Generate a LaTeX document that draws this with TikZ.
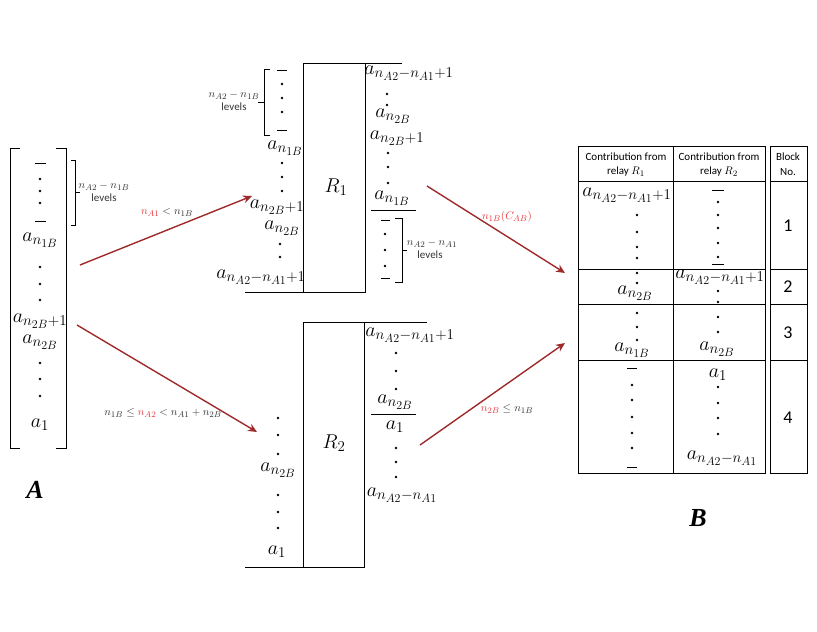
\RequirePackage{fix-cm}
\documentclass[tikz,border=0pt]{standalone}
\usepackage{fontspec}
\setmainfont{Carlito}
\newfontfamily\bigserif{Liberation Serif}
\usetikzlibrary{arrows.meta}
\DeclareMathSizes{20}{20}{15}{12}
\DeclareMathSizes{11}{11}{8.5}{7}
\definecolor{arr}{HTML}{9E2A2B}
\definecolor{lab}{HTML}{E8383D}
\newcommand\mydots[2]{\foreach \yy in {#2} {\fill (#1,\yy) circle[radius=1.3];}}
\newcommand\mydash[3]{\draw[thin] (#1,#3) -- (#2,#3);}
\begin{document}
\begin{tikzpicture}[x=1pt,y=-1pt,
  m/.style={font=\fontsize{20}{23}\selectfont, inner sep=0pt},
  sm/.style={font=\fontsize{11}{12}\selectfont, inner sep=0pt, text=black!80},
  num/.style={font=\fontsize{18}{20}\selectfont, inner sep=0pt},
  big/.style={font=\bigserif\bfseries\itshape\fontsize{26}{28}\selectfont, inner sep=0pt},
  ln/.style={line width=0.8pt},
  arrow/.style={draw=arr, line width=1.4pt, -{Stealth[length=9pt,width=8pt]}}]
\useasboundingbox (0,0) rectangle (817,632);

% ---------- Matrix A ----------
\draw[ln] (20,148) -- (10,148) -- (10,448) -- (20,448);
\draw[ln] (56,148) -- (66,148) -- (66,448) -- (56,448);
\mydash{35}{46}{163}
\mydots{40}{179,191,203}
\mydash{35}{46}{221}
\node[m] (Aa1B) at (40,240) {$a_{n_{1B}}$};
\mydots{40}{267,284,300}
\node[m] (Aa2Bp) at (40,321) {$a_{n_{2B}+1}$};
\node[m] (Aa2B) at (40,342) {$a_{n_{2B}}$};
\mydots{40}{363,379,396}
\node[m] (Aa1) at (40,425) {$a_1$};
\draw[ln] (71,160) -- (75,160) -- (75,225) -- (71,225);
\draw[ln] (75,192) -- (80,192);
\node[sm] (Al1) at (104,186) {$n_{A2}-n_{1B}$};
\node[sm] (Al2) at (104,198) {levels};
\node[big] (Alab) at (35,490) {A};

% ---------- arrows ----------
\coordinate (u1s) at (80,265);  \coordinate (u1e) at (252,196);
\coordinate (d1s) at (77,325);  \coordinate (d1e) at (257,432);
\coordinate (u2s) at (427,186); \coordinate (u2e) at (565,273);
\coordinate (d2s) at (420,445); \coordinate (d2e) at (565,343);
\draw[arrow] (u1s) -- (u1e);
\draw[arrow] (d1s) -- (d1e);
\draw[arrow] (u2s) -- (u2e);
\draw[arrow] (d2s) -- (d2e);
\node[sm] (lu1) at (167,213) {$\textcolor{lab}{n_{A1}} < n_{1B}$};
\node[sm] (ld1) at (163,413) {$n_{1B} \le \textcolor{lab}{n_{A2}} < n_{A1}+n_{2B}$};
\node[sm] (lu2) at (507,217) {$\textcolor{lab}{n_{1B}(C_{AB})}$};
\node[sm] (ld2) at (507,409) {$\textcolor{lab}{n_{2B}} \le n_{1B}$};

% ---------- Relay R1 ----------
\draw[ln] (303,63) rectangle (365,292);
\draw[ln] (365,63) -- (402,63);
\draw[ln] (245,292) -- (303,292);
\node[m] (R1) at (336,187) {$R_1$};
% left
\draw[ln] (270,69) -- (264,69) -- (264,135) -- (270,135);
\draw[ln] (264,102) -- (258,102);
\node[sm] (R1l1) at (234,95) {$n_{A2}-n_{1B}$};
\node[sm] (R1l2) at (234,107) {levels};
\mydash{277}{287}{70}
\mydots{282}{84,98,112}
\mydash{277}{287}{130}
\node[m] (R1a1B) at (285,148) {$a_{n_{1B}}$};
\mydots{282}{163,177,191}
\node[m] (R1a2Bp) at (277,207) {$a_{n_{2B}+1}$};
\node[m] (R1a2B) at (282,228) {$a_{n_{2B}}$};
\mydots{280}{244,257}
\node[m] (R1aA) at (261,277) {$a_{n_{A2}-n_{A1}+1}$};
% right
\node[m] (R1raA) at (409,73) {$a_{n_{A2}-n_{A1}+1}$};
\mydots{387}{94,105}
\node[m] (R1ra2B) at (393,116) {$a_{n_{2B}}$};
\node[m] (R1ra2Bp) at (397,138) {$a_{n_{2B}+1}$};
\mydots{388}{153,167,183}
\node[m] (R1ra1B) at (392,198) {$a_{n_{1B}}$};
\draw[ln] (371,210) -- (416,210);
\mydash{381}{390}{220}
\mydots{385}{234,250,266}
\mydash{381}{390}{278}
\draw[ln] (395,218) -- (402,218) -- (402,282) -- (395,282);
\draw[ln] (402,250) -- (407,250);
\node[sm] (R1rl1) at (432,243) {$n_{A2}-n_{A1}$};
\node[sm] (R1rl2) at (430,255) {levels};

% ---------- Relay R2 ----------
\draw[ln] (303,322) rectangle (364,567);
\draw[ln] (364,322) -- (427,322);
\draw[ln] (245,567) -- (303,567);
\node[m] (R2) at (334,443) {$R_2$};
\mydots{278}{418,435,454}
\node[m] (R2a2B) at (278,470) {$a_{n_{2B}}$};
\mydots{278}{495,512,528}
\node[m] (R2a1) at (277,552) {$a_1$};
\node[m] (R2raA) at (410,335) {$a_{n_{A2}-n_{A1}+1}$};
\mydots{396}{353,371,389}
\node[m] (R2ra2B) at (395,402) {$a_{n_{2B}}$};
\draw[ln] (371,414) -- (416,414);
\node[m] (R2ra1) at (395,427) {$a_1$};
\mydots{396}{448,462,477}
\node[m] (R2raAm) at (402,495) {$a_{n_{A2}-n_{A1}}$};

% ---------- Table B ----------
\draw[ln] (578,146) rectangle (765,473);
\draw[ln] (673,146) -- (673,473);
\draw[ln] (770,146) rectangle (807,473);
\foreach \hy in {181,269,304,360} {
  \draw[ln] (578,\hy) -- (765,\hy);
  \draw[ln] (770,\hy) -- (807,\hy);
}
\node[sm,text=black] (h1a) at (626,157) {Contribution from};
\node[sm,text=black] (h1b) at (626,172) {relay $R_1$};
\node[sm,text=black] (h2a) at (719,157) {Contribution from};
\node[sm,text=black] (h2b) at (719,172) {relay $R_2$};
\node[sm,text=black] (h3a) at (788,157) {Block};
\node[sm,text=black] (h3b) at (788,172) {No.};
% column 1
\node[m] (c1aA) at (627,195) {$a_{n_{A2}-n_{A1}+1}$};
\mydots{637}{215,232,247,258,273,283}
\node[m] (c1a2B) at (635,293) {$a_{n_{2B}}$};
\mydots{637}{313,327,340}
\node[m] (c1a1B) at (632,350) {$a_{n_{1B}}$};
\mydash{627}{637}{368}
\mydots{632}{385,400,417,433,448}
\mydash{627}{637}{467}
% column 2
\draw[line width=1pt] (712,190) -- (724,190);
\mydots{718}{202,215,228,243,257}
\draw[line width=1pt] (712,264) -- (724,264);
\node[m] (c2aA) at (720,277) {$a_{n_{A2}-n_{A1}+1}$};
\mydots{718}{291,302,317,332}
\node[m] (c2a2B) at (717,349) {$a_{n_{2B}}$};
\node[m] (c2a1) at (718,375) {$a_1$};
\mydots{718}{387,403,418,434}
\node[m] (c2aAm) at (722,458) {$a_{n_{A2}-n_{A1}}$};
% block numbers
\node[num] (b1) at (788,226) {1};
\node[num] (b2) at (788,287) {2};
\node[num] (b3) at (788,333) {3};
\node[num] (b4) at (788,418) {4};
\node[big] (Blab) at (698,518) {B};
\end{tikzpicture}
\end{document}
